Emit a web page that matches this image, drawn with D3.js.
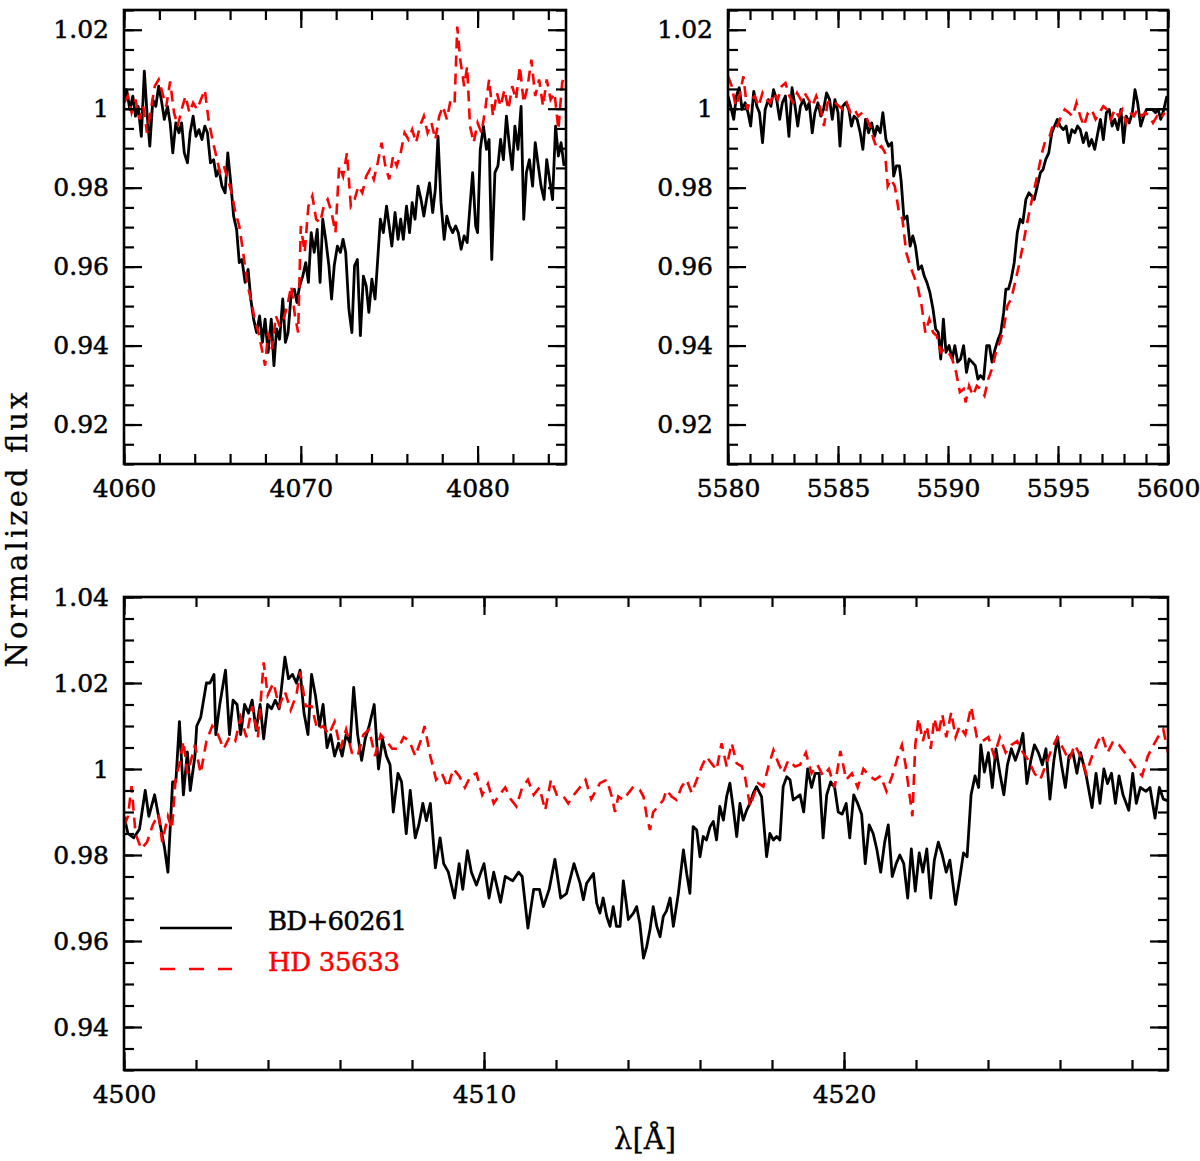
<!DOCTYPE html>
<html>
<head>
<meta charset="utf-8">
<script src="https://d3js.org/d3.v7.min.js"></script>
<style>
  body { margin: 0; background: #fff; }
  text { font-family: "DejaVu Serif", serif; fill: #000; }
</style>
</head>
<body>
<div id="chart"></div>
<script>
// spectra: [wavelength (A), normalized flux]
var topLeftBlack = [[4060.00,1.0023],[4060.15,1.0048],[4060.33,0.9998],[4060.50,1.0032],[4060.65,0.9981],[4060.80,1.0006],[4060.98,0.9930],[4061.15,1.0095],[4061.30,0.9990],[4061.46,0.9905],[4061.63,1.0023],[4061.80,1.0006],[4061.96,1.0057],[4062.11,1.0023],[4062.28,0.9973],[4062.46,1.0006],[4062.61,0.9964],[4062.76,0.9888],[4062.93,0.9964],[4063.11,0.9939],[4063.26,0.9964],[4063.41,0.9888],[4063.59,0.9863],[4063.74,0.9939],[4063.91,0.9981],[4064.07,0.9930],[4064.24,0.9947],[4064.41,0.9922],[4064.57,0.9956],[4064.72,0.9939],[4064.89,0.9863],[4065.07,0.9871],[4065.22,0.9829],[4065.37,0.9846],[4065.54,0.9804],[4065.72,0.9787],[4065.87,0.9888],[4066.02,0.9821],[4066.20,0.9728],[4066.37,0.9694],[4066.52,0.9610],[4066.67,0.9618],[4066.85,0.9560],[4067.02,0.9593],[4067.17,0.9518],[4067.33,0.9467],[4067.50,0.9433],[4067.67,0.9475],[4067.83,0.9408],[4067.98,0.9467],[4068.15,0.9383],[4068.33,0.9467],[4068.48,0.9349],[4068.63,0.9442],[4068.80,0.9416],[4068.98,0.9518],[4069.13,0.9408],[4069.28,0.9433],[4069.46,0.9534],[4069.63,0.9543],[4069.78,0.9509],[4069.93,0.9551],[4070.11,0.9576],[4070.28,0.9610],[4070.43,0.9560],[4070.59,0.9686],[4070.76,0.9636],[4070.93,0.9694],[4071.09,0.9560],[4071.24,0.9720],[4071.41,0.9669],[4071.59,0.9602],[4071.74,0.9518],[4071.89,0.9602],[4072.07,0.9652],[4072.24,0.9636],[4072.39,0.9669],[4072.54,0.9636],[4072.72,0.9492],[4072.89,0.9433],[4073.04,0.9602],[4073.20,0.9618],[4073.37,0.9425],[4073.54,0.9576],[4073.70,0.9551],[4073.85,0.9484],[4074.02,0.9568],[4074.20,0.9518],[4074.35,0.9618],[4074.50,0.9720],[4074.67,0.9686],[4074.85,0.9753],[4075.00,0.9703],[4075.15,0.9652],[4075.33,0.9737],[4075.50,0.9669],[4075.65,0.9720],[4075.80,0.9669],[4075.98,0.9753],[4076.15,0.9686],[4076.30,0.9762],[4076.46,0.9720],[4076.63,0.9804],[4076.80,0.9770],[4076.96,0.9728],[4077.11,0.9770],[4077.28,0.9812],[4077.46,0.9737],[4077.61,0.9796],[4077.76,0.9930],[4077.93,0.9762],[4078.11,0.9669],[4078.26,0.9728],[4078.41,0.9703],[4078.59,0.9686],[4078.76,0.9703],[4078.91,0.9686],[4079.07,0.9644],[4079.24,0.9678],[4079.41,0.9661],[4079.57,0.9753],[4079.72,0.9838],[4079.89,0.9703],[4080.00,0.9686],[4080.15,0.9897],[4080.33,0.9956],[4080.50,0.9897],[4080.65,0.9922],[4080.80,0.9618],[4080.98,0.9838],[4081.15,0.9855],[4081.30,0.9922],[4081.46,0.9871],[4081.63,0.9981],[4081.80,0.9905],[4081.96,0.9846],[4082.11,0.9956],[4082.28,0.9897],[4082.46,1.0006],[4082.61,0.9720],[4082.76,0.9838],[4082.93,0.9871],[4083.11,0.9804],[4083.26,0.9914],[4083.41,0.9863],[4083.59,0.9804],[4083.76,0.9770],[4083.91,0.9871],[4084.07,0.9821],[4084.24,0.9770],[4084.41,0.9956],[4084.57,0.9880],[4084.72,0.9914],[4084.89,0.9855]];

var topLeftRed = [[4060.00,1.0015],[4060.22,1.0032],[4060.43,0.9990],[4060.65,1.0023],[4060.87,0.9973],[4061.09,1.0006],[4061.30,0.9939],[4061.52,0.9998],[4061.74,1.0057],[4061.96,1.0074],[4062.17,1.0040],[4062.39,1.0006],[4062.61,1.0069],[4062.83,0.9990],[4063.04,0.9956],[4063.26,0.9998],[4063.48,1.0032],[4063.70,0.9990],[4063.91,1.0015],[4064.13,0.9998],[4064.35,1.0023],[4064.57,1.0048],[4064.78,0.9973],[4065.00,0.9922],[4065.22,0.9880],[4065.43,0.9838],[4065.65,0.9855],[4065.87,0.9821],[4066.09,0.9787],[4066.30,0.9737],[4066.52,0.9703],[4066.74,0.9636],[4066.96,0.9560],[4067.17,0.9518],[4067.39,0.9467],[4067.61,0.9433],[4067.83,0.9383],[4067.98,0.9349],[4068.15,0.9433],[4068.37,0.9391],[4068.59,0.9475],[4068.80,0.9450],[4069.02,0.9467],[4069.24,0.9501],[4069.46,0.9551],[4069.67,0.9475],[4069.85,0.9433],[4070.00,0.9703],[4070.22,0.9636],[4070.43,0.9753],[4070.65,0.9779],[4070.87,0.9720],[4071.09,0.9711],[4071.30,0.9753],[4071.52,0.9770],[4071.74,0.9737],[4071.96,0.9686],[4072.17,0.9855],[4072.39,0.9829],[4072.61,0.9888],[4072.83,0.9753],[4073.04,0.9770],[4073.26,0.9804],[4073.48,0.9787],[4073.70,0.9829],[4073.91,0.9846],[4074.13,0.9821],[4074.35,0.9863],[4074.57,0.9914],[4074.78,0.9855],[4075.00,0.9821],[4075.22,0.9880],[4075.43,0.9855],[4075.65,0.9888],[4075.87,0.9939],[4076.09,0.9922],[4076.30,0.9947],[4076.52,0.9914],[4076.74,0.9956],[4076.96,0.9981],[4077.17,0.9939],[4077.39,0.9964],[4077.61,0.9922],[4077.83,0.9981],[4078.04,1.0006],[4078.26,0.9973],[4078.48,1.0023],[4078.70,1.0015],[4078.85,1.0208],[4079.02,1.0124],[4079.24,1.0057],[4079.41,1.0107],[4079.57,0.9956],[4079.78,0.9914],[4080.00,0.9964],[4080.22,0.9939],[4080.43,0.9998],[4080.65,1.0074],[4080.87,0.9981],[4081.09,1.0040],[4081.30,1.0006],[4081.52,1.0048],[4081.74,0.9998],[4081.96,1.0057],[4082.17,1.0023],[4082.39,1.0107],[4082.61,1.0015],[4082.83,1.0057],[4083.04,1.0124],[4083.26,1.0032],[4083.48,1.0074],[4083.70,1.0006],[4083.91,1.0074],[4084.13,1.0023],[4084.35,1.0040],[4084.57,0.9947],[4084.78,1.0065],[4084.89,1.0082]];

var topRightBlack = [[5580.00,1.0032],[5580.12,1.0006],[5580.26,0.9973],[5580.38,1.0032],[5580.51,1.0053],[5580.64,0.9998],[5580.78,1.0015],[5580.91,0.9990],[5581.03,0.9956],[5581.17,1.0044],[5581.31,1.0006],[5581.43,0.9990],[5581.57,0.9914],[5581.69,0.9998],[5581.83,1.0023],[5581.95,1.0006],[5582.07,1.0048],[5582.21,1.0023],[5582.35,0.9973],[5582.47,1.0015],[5582.61,1.0032],[5582.77,0.9930],[5582.91,1.0053],[5583.05,1.0006],[5583.17,0.9956],[5583.29,1.0006],[5583.43,1.0023],[5583.57,0.9998],[5583.69,1.0015],[5583.83,0.9939],[5583.95,0.9990],[5584.09,1.0015],[5584.22,0.9981],[5584.34,0.9998],[5584.48,1.0040],[5584.62,1.0023],[5584.74,0.9973],[5584.86,1.0023],[5585.00,0.9990],[5585.09,0.9905],[5585.21,1.0006],[5585.35,1.0015],[5585.49,0.9998],[5585.61,0.9956],[5585.73,0.9981],[5585.87,0.9973],[5586.01,0.9939],[5586.13,0.9897],[5586.25,0.9973],[5586.39,0.9939],[5586.53,0.9964],[5586.66,0.9930],[5586.78,0.9956],[5586.92,0.9939],[5587.04,0.9990],[5587.18,0.9922],[5587.30,0.9905],[5587.44,0.9914],[5587.53,0.9829],[5587.65,0.9855],[5587.79,0.9855],[5587.87,0.9817],[5588.00,0.9720],[5588.14,0.9728],[5588.28,0.9652],[5588.40,0.9678],[5588.52,0.9652],[5588.66,0.9593],[5588.80,0.9602],[5588.92,0.9576],[5589.04,0.9560],[5589.18,0.9534],[5589.32,0.9492],[5589.44,0.9442],[5589.56,0.9433],[5589.67,0.9366],[5589.79,0.9467],[5589.91,0.9383],[5590.05,0.9400],[5590.19,0.9366],[5590.31,0.9400],[5590.44,0.9358],[5590.57,0.9366],[5590.71,0.9400],[5590.84,0.9332],[5590.96,0.9366],[5591.10,0.9358],[5591.24,0.9349],[5591.36,0.9315],[5591.48,0.9324],[5591.62,0.9315],[5591.76,0.9400],[5591.88,0.9400],[5592.00,0.9358],[5592.14,0.9391],[5592.28,0.9416],[5592.40,0.9433],[5592.53,0.9484],[5592.63,0.9543],[5592.75,0.9543],[5592.87,0.9568],[5593.01,0.9610],[5593.15,0.9686],[5593.28,0.9720],[5593.40,0.9711],[5593.54,0.9770],[5593.68,0.9787],[5593.80,0.9779],[5593.92,0.9770],[5594.06,0.9804],[5594.20,0.9838],[5594.32,0.9846],[5594.44,0.9871],[5594.58,0.9888],[5594.72,0.9939],[5594.84,0.9956],[5594.97,0.9973],[5595.10,0.9956],[5595.24,0.9947],[5595.37,0.9956],[5595.49,0.9914],[5595.63,0.9947],[5595.77,0.9939],[5595.89,0.9956],[5596.01,0.9947],[5596.15,0.9914],[5596.29,0.9939],[5596.41,0.9905],[5596.53,0.9922],[5596.67,0.9897],[5596.81,0.9939],[5596.93,0.9973],[5597.06,0.9922],[5597.20,0.9990],[5597.33,0.9998],[5597.46,0.9956],[5597.58,0.9973],[5597.72,0.9947],[5597.86,0.9998],[5597.98,0.9914],[5598.10,0.9981],[5598.24,0.9964],[5598.38,0.9990],[5598.50,1.0048],[5598.62,1.0015],[5598.76,0.9956],[5598.90,0.9981],[5599.02,0.9998],[5599.15,0.9998],[5599.29,0.9998],[5599.43,0.9990],[5599.55,0.9998],[5599.67,0.9973],[5599.81,0.9998],[5599.95,1.0032]];

var topRightRed = [[5580.00,1.0082],[5580.17,1.0057],[5580.35,1.0006],[5580.52,1.0032],[5580.70,1.0082],[5580.87,0.9998],[5581.05,1.0023],[5581.22,1.0032],[5581.39,1.0006],[5581.57,1.0040],[5581.74,1.0023],[5581.92,1.0015],[5582.09,1.0040],[5582.26,1.0023],[5582.44,1.0057],[5582.61,1.0065],[5582.79,1.0032],[5582.96,1.0015],[5583.14,1.0040],[5583.31,1.0023],[5583.48,1.0040],[5583.66,1.0023],[5583.83,1.0006],[5584.01,1.0032],[5584.18,1.0006],[5584.36,0.9956],[5584.53,1.0015],[5584.70,1.0023],[5584.88,1.0015],[5585.05,1.0006],[5585.23,0.9998],[5585.40,1.0015],[5585.57,0.9990],[5585.75,0.9998],[5585.92,0.9981],[5586.10,0.9990],[5586.27,0.9981],[5586.45,0.9956],[5586.62,0.9922],[5586.79,0.9897],[5586.97,0.9905],[5587.14,0.9888],[5587.26,0.9804],[5587.40,0.9821],[5587.58,0.9804],[5587.75,0.9745],[5587.93,0.9720],[5588.10,0.9636],[5588.28,0.9602],[5588.45,0.9576],[5588.62,0.9551],[5588.80,0.9501],[5588.97,0.9433],[5589.15,0.9467],[5589.32,0.9433],[5589.49,0.9425],[5589.67,0.9383],[5589.84,0.9391],[5590.02,0.9383],[5590.19,0.9366],[5590.37,0.9332],[5590.54,0.9282],[5590.71,0.9290],[5590.80,0.9256],[5590.96,0.9298],[5591.13,0.9273],[5591.31,0.9298],[5591.48,0.9290],[5591.66,0.9273],[5591.83,0.9315],[5592.00,0.9341],[5592.18,0.9383],[5592.35,0.9408],[5592.53,0.9442],[5592.70,0.9501],[5592.87,0.9518],[5593.05,0.9560],[5593.22,0.9602],[5593.40,0.9652],[5593.57,0.9703],[5593.75,0.9753],[5593.92,0.9796],[5594.09,0.9838],[5594.27,0.9888],[5594.44,0.9922],[5594.62,0.9930],[5594.79,0.9964],[5594.97,0.9956],[5595.14,0.9981],[5595.31,0.9998],[5595.49,0.9990],[5595.66,0.9981],[5595.84,1.0015],[5596.01,0.9981],[5596.18,0.9956],[5596.36,0.9990],[5596.53,0.9998],[5596.71,0.9973],[5596.88,0.9990],[5597.06,1.0006],[5597.23,0.9998],[5597.40,0.9973],[5597.58,0.9998],[5597.75,0.9981],[5597.93,0.9998],[5598.10,0.9964],[5598.28,0.9990],[5598.45,0.9981],[5598.62,0.9998],[5598.80,0.9981],[5598.97,0.9990],[5599.15,0.9981],[5599.32,0.9964],[5599.50,0.9981],[5599.67,0.9973],[5599.84,0.9990]];

var bottomBlack = [[4500.00,0.9890],[4500.11,0.9850],[4500.27,0.9840],[4500.43,0.9860],[4500.59,0.9950],[4500.69,0.9890],[4500.85,0.9940],[4500.96,0.9890],[4501.12,0.9820],[4501.22,0.9760],[4501.35,0.9970],[4501.44,0.9970],[4501.54,1.0110],[4501.65,0.9940],[4501.76,1.0040],[4501.84,0.9950],[4501.97,1.0030],[4502.02,1.0100],[4502.13,1.0120],[4502.29,1.0200],[4502.39,1.0200],[4502.50,1.0220],[4502.55,1.0080],[4502.66,1.0150],[4502.82,1.0230],[4502.93,1.0080],[4503.03,1.0160],[4503.14,1.0150],[4503.24,1.0080],[4503.35,1.0150],[4503.46,1.0130],[4503.56,1.0160],[4503.67,1.0090],[4503.78,1.0150],[4503.88,1.0070],[4503.99,1.0150],[4504.10,1.0140],[4504.20,1.0160],[4504.31,1.0140],[4504.47,1.0260],[4504.57,1.0210],[4504.68,1.0220],[4504.79,1.0200],[4504.89,1.0230],[4505.00,1.0130],[4505.11,1.0080],[4505.21,1.0220],[4505.32,1.0170],[4505.43,1.0100],[4505.53,1.0150],[4505.64,1.0050],[4505.74,1.0080],[4505.85,1.0030],[4505.96,1.0060],[4506.06,1.0030],[4506.17,1.0080],[4506.28,1.0060],[4506.38,1.0190],[4506.49,1.0080],[4506.60,1.0020],[4506.70,1.0070],[4506.81,1.0100],[4506.95,1.0150],[4507.07,1.0000],[4507.18,1.0070],[4507.29,1.0030],[4507.39,1.0010],[4507.48,0.9900],[4507.61,0.9990],[4507.71,0.9970],[4507.84,0.9850],[4507.95,0.9950],[4508.09,0.9840],[4508.19,0.9870],[4508.30,0.9920],[4508.40,0.9880],[4508.51,0.9920],[4508.65,0.9770],[4508.78,0.9840],[4508.88,0.9780],[4509.01,0.9760],[4509.18,0.9700],[4509.31,0.9780],[4509.41,0.9720],[4509.54,0.9810],[4509.65,0.9760],[4509.79,0.9730],[4510.00,0.9780],[4510.14,0.9700],[4510.27,0.9760],[4510.46,0.9690],[4510.59,0.9750],[4510.80,0.9740],[4510.96,0.9760],[4511.06,0.9750],[4511.22,0.9630],[4511.38,0.9720],[4511.54,0.9720],[4511.65,0.9680],[4511.81,0.9720],[4511.97,0.9790],[4512.13,0.9700],[4512.29,0.9710],[4512.50,0.9780],[4512.67,0.9734],[4512.76,0.9696],[4512.85,0.9734],[4513.04,0.9757],[4513.13,0.9688],[4513.22,0.9665],[4513.31,0.9700],[4513.41,0.9657],[4513.50,0.9634],[4513.59,0.9680],[4513.68,0.9634],[4513.78,0.9634],[4513.87,0.9740],[4514.01,0.9650],[4514.15,0.9665],[4514.24,0.9680],[4514.33,0.9640],[4514.43,0.9560],[4514.52,0.9587],[4514.61,0.9626],[4514.70,0.9680],[4514.80,0.9634],[4514.89,0.9610],[4514.98,0.9657],[4515.07,0.9670],[4515.17,0.9700],[4515.26,0.9634],[4515.40,0.9711],[4515.54,0.9812],[4515.63,0.9757],[4515.72,0.9711],[4515.81,0.9866],[4515.91,0.9858],[4516.00,0.9796],[4516.09,0.9843],[4516.18,0.9835],[4516.28,0.9866],[4516.37,0.9878],[4516.46,0.9835],[4516.55,0.9913],[4516.65,0.9881],[4516.74,0.9936],[4516.83,0.9967],[4516.93,0.9905],[4517.02,0.9843],[4517.11,0.9920],[4517.20,0.9881],[4517.30,0.9905],[4517.39,0.9920],[4517.48,0.9944],[4517.57,0.9959],[4517.71,0.9936],[4517.85,0.9796],[4517.94,0.9850],[4518.04,0.9835],[4518.13,0.9843],[4518.22,0.9835],[4518.31,0.9959],[4518.41,0.9982],[4518.50,0.9975],[4518.59,0.9928],[4518.78,0.9940],[4518.88,0.9900],[4518.99,1.0000],[4519.10,0.9957],[4519.20,0.9990],[4519.31,0.9990],[4519.42,0.9840],[4519.52,0.9940],[4519.63,0.9970],[4519.74,0.9957],[4519.84,0.9900],[4519.95,0.9895],[4520.06,0.9920],[4520.16,0.9840],[4520.27,0.9940],[4520.38,0.9920],[4520.49,0.9895],[4520.59,0.9780],[4520.70,0.9870],[4520.81,0.9850],[4520.91,0.9814],[4521.02,0.9760],[4521.13,0.9830],[4521.23,0.9870],[4521.34,0.9750],[4521.45,0.9780],[4521.55,0.9800],[4521.66,0.9780],[4521.77,0.9700],[4521.87,0.9814],[4521.98,0.9716],[4522.09,0.9805],[4522.19,0.9760],[4522.30,0.9814],[4522.41,0.9700],[4522.51,0.9788],[4522.62,0.9830],[4522.73,0.9800],[4522.84,0.9760],[4522.94,0.9788],[4523.10,0.9685],[4523.21,0.9743],[4523.32,0.9805],[4523.42,0.9796],[4523.53,0.9940],[4523.64,0.9984],[4523.74,0.9957],[4523.80,1.0056],[4523.90,0.9993],[4524.01,1.0038],[4524.12,0.9957],[4524.22,1.0047],[4524.33,0.9990],[4524.44,0.9940],[4524.54,1.0010],[4524.65,1.0047],[4524.76,1.0020],[4524.87,1.0047],[4524.97,1.0083],[4525.08,0.9966],[4525.19,1.0020],[4525.29,1.0056],[4525.40,1.0038],[4525.51,1.0010],[4525.61,1.0047],[4525.72,0.9930],[4525.83,1.0020],[4525.93,1.0074],[4526.04,1.0010],[4526.15,0.9957],[4526.25,1.0030],[4526.36,1.0038],[4526.47,0.9990],[4526.57,1.0038],[4526.73,0.9984],[4526.89,0.9910],[4527.00,0.9990],[4527.11,0.9920],[4527.22,1.0000],[4527.32,0.9966],[4527.43,0.9990],[4527.54,0.9920],[4527.64,0.9984],[4527.75,0.9940],[4527.91,0.9904],[4528.02,0.9990],[4528.12,0.9920],[4528.23,0.9957],[4528.39,0.9948],[4528.50,0.9957],[4528.64,0.9886],[4528.76,0.9957],[4528.87,0.9930],[4529.00,0.9926]];

var bottomRed = [[4500.00,0.9868],[4500.11,0.9890],[4500.21,0.9960],[4500.32,0.9850],[4500.48,0.9814],[4500.64,0.9830],[4500.80,0.9870],[4500.96,0.9895],[4501.06,0.9830],[4501.22,0.9890],[4501.33,0.9860],[4501.44,0.9984],[4501.54,1.0010],[4501.65,1.0065],[4501.76,0.9990],[4501.86,1.0020],[4501.97,1.0056],[4502.13,0.9990],[4502.29,1.0065],[4502.45,1.0100],[4502.61,1.0080],[4502.77,1.0047],[4502.93,1.0074],[4503.09,1.0065],[4503.24,1.0120],[4503.40,1.0074],[4503.56,1.0146],[4503.72,1.0074],[4503.88,1.0248],[4503.99,1.0172],[4504.15,1.0200],[4504.31,1.0146],[4504.47,1.0180],[4504.63,1.0137],[4504.79,1.0172],[4504.89,1.0226],[4505.05,1.0146],[4505.21,1.0146],[4505.37,1.0092],[4505.53,1.0100],[4505.69,1.0080],[4505.85,1.0110],[4506.01,1.0047],[4506.17,1.0092],[4506.33,1.0038],[4506.49,1.0030],[4506.65,1.0080],[4506.81,1.0092],[4506.97,1.0030],[4507.13,1.0080],[4507.29,1.0065],[4507.45,1.0047],[4507.61,1.0047],[4507.77,1.0074],[4507.93,1.0065],[4508.09,1.0030],[4508.24,1.0065],[4508.35,1.0100],[4508.51,1.0030],[4508.67,0.9975],[4508.83,0.9990],[4508.99,0.9957],[4509.15,1.0000],[4509.31,0.9984],[4509.47,0.9957],[4509.63,0.9984],[4509.79,0.9990],[4509.95,0.9940],[4510.11,0.9966],[4510.27,0.9920],[4510.43,0.9940],[4510.59,0.9957],[4510.74,0.9930],[4510.90,0.9913],[4511.06,0.9957],[4511.22,0.9975],[4511.38,0.9940],[4511.54,0.9957],[4511.70,0.9904],[4511.86,0.9975],[4512.02,0.9940],[4512.18,0.9940],[4512.34,0.9920],[4512.50,0.9940],[4512.66,0.9957],[4512.82,0.9975],[4512.98,0.9930],[4513.22,0.9967],[4513.41,0.9975],[4513.55,0.9936],[4513.64,0.9900],[4513.73,0.9936],[4513.87,0.9928],[4514.01,0.9944],[4514.15,0.9959],[4514.33,0.9951],[4514.43,0.9936],[4514.52,0.9890],[4514.61,0.9858],[4514.70,0.9900],[4514.84,0.9913],[4514.98,0.9928],[4515.07,0.9951],[4515.21,0.9936],[4515.35,0.9928],[4515.49,0.9959],[4515.63,0.9975],[4515.77,0.9944],[4515.91,0.9975],[4516.05,1.0006],[4516.18,1.0029],[4516.32,1.0013],[4516.46,0.9998],[4516.60,1.0060],[4516.74,1.0006],[4516.88,1.0060],[4517.02,1.0013],[4517.16,1.0006],[4517.25,0.9982],[4517.39,0.9913],[4517.48,0.9936],[4517.62,0.9967],[4517.76,0.9959],[4517.90,1.0006],[4518.04,1.0044],[4518.18,1.0013],[4518.31,0.9990],[4518.45,1.0020],[4518.64,1.0006],[4518.78,1.0010],[4518.94,1.0038],[4519.10,0.9990],[4519.26,1.0010],[4519.42,0.9984],[4519.58,1.0000],[4519.74,0.9957],[4519.90,1.0042],[4520.06,0.9975],[4520.22,0.9990],[4520.38,0.9957],[4520.54,1.0000],[4520.70,0.9984],[4520.86,0.9975],[4521.02,0.9984],[4521.18,0.9948],[4521.34,0.9984],[4521.50,1.0030],[4521.61,1.0056],[4521.71,1.0010],[4521.82,0.9940],[4521.90,0.9890],[4521.98,1.0056],[4522.07,1.0118],[4522.19,1.0065],[4522.30,1.0100],[4522.41,1.0047],[4522.51,1.0118],[4522.62,1.0080],[4522.73,1.0127],[4522.84,1.0074],[4522.98,1.0132],[4523.10,1.0074],[4523.21,1.0100],[4523.37,1.0080],[4523.53,1.0145],[4523.69,1.0074],[4523.85,1.0065],[4524.01,1.0074],[4524.17,1.0030],[4524.33,1.0074],[4524.49,1.0038],[4524.65,1.0056],[4524.81,1.0065],[4524.97,1.0038],[4525.13,1.0020],[4525.29,0.9990],[4525.45,0.9975],[4525.61,1.0010],[4525.77,1.0047],[4525.93,1.0074],[4526.09,1.0047],[4526.25,1.0020],[4526.41,1.0056],[4526.57,1.0030],[4526.73,0.9990],[4526.89,1.0030],[4527.06,1.0065],[4527.16,1.0080],[4527.32,1.0038],[4527.48,1.0065],[4527.64,1.0056],[4527.80,1.0038],[4527.96,1.0020],[4528.12,1.0000],[4528.28,0.9984],[4528.44,1.0030],[4528.60,1.0056],[4528.76,1.0080],[4528.87,1.0092],[4529.00,1.0038]];

// tick values and labels
var topLeftXTicks = [4060, 4070, 4080];
var topRightXTicks = [5580, 5585, 5590, 5595, 5600];
var bottomXTicks = [4500, 4510, 4520];
var topYTicks = [0.92, 0.94, 0.96, 0.98, 1.00, 1.02];
var topYLabels = ["0.92", "0.94", "0.96", "0.98", "1", "1.02"];
var bottomYTicks = [0.94, 0.96, 0.98, 1.00, 1.02, 1.04];
var bottomYLabels = ["0.94", "0.96", "0.98", "1", "1.02", "1.04"];

var seriesNames = ["BD+60261", "HD 35633"];

var svg = d3.select("#chart")
  .append("svg")
    .attr("width", 1200)
    .attr("height", 1161);

var panels = [
  {id: "tl", left: 124, right: 566, top: 10, bottom: 464,
   xDomain: [4060, 4085], yDomain: [0.91, 1.025],
   xTicks: topLeftXTicks, xMinor: d3.range(4060, 4086, 2),
   yTicks: topYTicks, yLabels: topYLabels, yMinor: d3.range(182, 206).map(function(k) { return k * 0.005; }),
   black: topLeftBlack, red: topLeftRed},
  {id: "tr", left: 728, right: 1168, top: 10, bottom: 464,
   xDomain: [5580, 5600], yDomain: [0.91, 1.025],
   xTicks: topRightXTicks, xMinor: d3.range(5580, 5601, 1),
   yTicks: topYTicks, yLabels: topYLabels, yMinor: d3.range(182, 206).map(function(k) { return k * 0.005; }),
   black: topRightBlack, red: topRightRed},
  {id: "bt", left: 124, right: 1168, top: 597, bottom: 1070,
   xDomain: [4500, 4529], yDomain: [0.93, 1.04],
   xTicks: bottomXTicks, xMinor: d3.range(4500, 4530, 2),
   yTicks: bottomYTicks, yLabels: bottomYLabels, yMinor: d3.range(186, 209).map(function(k) { return k * 0.005; }),
   black: bottomBlack, red: bottomRed}
];

function styleAxis(g) {
  g.select(".domain").remove();
  g.selectAll(".tick line").attr("stroke", "#000").attr("stroke-width", 2.2);
  g.selectAll(".tick text")
    .attr("font-family", "DejaVu Serif, serif")
    .attr("font-size", 25)
    .attr("fill", "#000")
    .attr("stroke", "#000")
    .attr("stroke-width", 0.5);
}

panels.forEach(function(p) {
  var x = d3.scaleLinear().domain(p.xDomain).range([p.left, p.right]);
  var y = d3.scaleLinear().domain(p.yDomain).range([p.bottom, p.top]);
  var g = svg.append("g");

  g.append("clipPath")
    .attr("id", "clip-" + p.id)
    .append("rect")
      .attr("x", p.left).attr("y", p.top)
      .attr("width", p.right - p.left).attr("height", p.bottom - p.top);

  var line = d3.line()
    .x(function(d) { return x(d[0]); })
    .y(function(d) { return y(d[1]); });

  // the two spectra
  g.append("path")
    .datum(p.black)
    .attr("d", line)
    .attr("fill", "none")
    .attr("stroke", "#000")
    .attr("stroke-width", 2.8)
    .attr("stroke-linejoin", "round")
    .attr("clip-path", "url(#clip-" + p.id + ")");

  g.append("path")
    .datum(p.red)
    .attr("d", line)
    .attr("fill", "none")
    .attr("stroke", "#f00")
    .attr("stroke-width", 2.6)
    .attr("stroke-dasharray", "11,7")
    .attr("clip-path", "url(#clip-" + p.id + ")");

  // minor ticks, all four sides, pointing inwards
  g.append("g").attr("transform", "translate(0," + p.bottom + ")")
    .call(d3.axisBottom(x).tickValues(p.xMinor).tickSize(-10).tickFormat("")).call(styleAxis);
  g.append("g").attr("transform", "translate(0," + p.top + ")")
    .call(d3.axisTop(x).tickValues(p.xMinor).tickSize(-10).tickFormat("")).call(styleAxis);
  g.append("g").attr("transform", "translate(" + p.left + ",0)")
    .call(d3.axisLeft(y).tickValues(p.yMinor).tickSize(-10).tickFormat("")).call(styleAxis);
  g.append("g").attr("transform", "translate(" + p.right + ",0)")
    .call(d3.axisRight(y).tickValues(p.yMinor).tickSize(-10).tickFormat("")).call(styleAxis);

  // major ticks with labels
  g.append("g").attr("transform", "translate(0," + p.bottom + ")")
    .call(d3.axisBottom(x).tickValues(p.xTicks).tickSize(-18).tickPadding(15).tickFormat(d3.format("d"))).call(styleAxis);
  g.append("g").attr("transform", "translate(0," + p.top + ")")
    .call(d3.axisTop(x).tickValues(p.xTicks).tickSize(-18).tickFormat("")).call(styleAxis);
  g.append("g").attr("transform", "translate(" + p.left + ",0)")
    .call(d3.axisLeft(y).tickValues(p.yTicks).tickSize(-18).tickPadding(15)
      .tickFormat(function(d, i) { return p.yLabels[i]; })).call(styleAxis);
  g.append("g").attr("transform", "translate(" + p.right + ",0)")
    .call(d3.axisRight(y).tickValues(p.yTicks).tickSize(-18).tickFormat("")).call(styleAxis);

  // frame
  g.append("rect")
    .attr("x", p.left).attr("y", p.top)
    .attr("width", p.right - p.left).attr("height", p.bottom - p.top)
    .attr("fill", "none")
    .attr("stroke", "#000")
    .attr("stroke-width", 2.6);
});

// legend in the bottom panel
var legend = svg.append("g");
legend.append("line")
  .attr("x1", 160).attr("x2", 232).attr("y1", 928).attr("y2", 928)
  .attr("stroke", "#000").attr("stroke-width", 2.6);
legend.append("line")
  .attr("x1", 160).attr("x2", 232).attr("y1", 969).attr("y2", 969)
  .attr("stroke", "#f00").attr("stroke-width", 2.6).attr("stroke-dasharray", "15,14");
legend.append("text")
  .attr("x", 268).attr("y", 930)
  .attr("font-size", 26)
  .attr("stroke", "#000").attr("stroke-width", 0.5)
  .attr("textLength", 139).attr("lengthAdjust", "spacing")
  .text(seriesNames[0]);
legend.append("text")
  .attr("x", 268).attr("y", 971)
  .attr("font-size", 26)
  .style("fill", "#f00")
  .attr("stroke", "#f00").attr("stroke-width", 0.5)
  .attr("textLength", 132).attr("lengthAdjust", "spacing")
  .text(seriesNames[1]);

// axis titles
svg.append("text")
  .attr("transform", "translate(27,530) rotate(-90)")
  .attr("text-anchor", "middle")
  .attr("font-size", 29)
  .attr("stroke", "#000").attr("stroke-width", 0.3)
  .attr("textLength", 275)
  .attr("lengthAdjust", "spacing")
  .text("Normalized  flux");

svg.append("text")
  .attr("x", 645).attr("y", 1149)
  .attr("text-anchor", "middle")
  .attr("font-size", 29)
  .attr("stroke", "#000").attr("stroke-width", 0.3)
  .text("λ[Å]");
</script>
</body>
</html>
